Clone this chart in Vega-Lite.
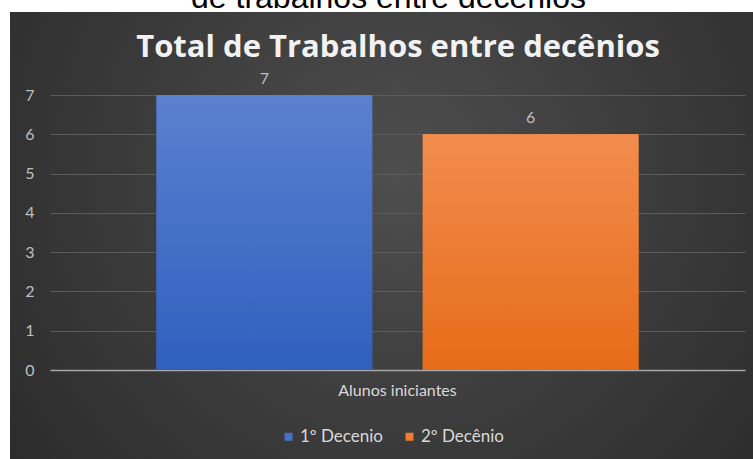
{
  "$schema": "https://vega.github.io/schema/vega-lite/v6.json",
  "width": 743,
  "height": 447,
  "autosize": "none",
  "padding": {"left": 10, "top": 12, "right": 0, "bottom": 0},
  "background": "#ffffff",
  "view": {
    "stroke": null,
    "fill": {
      "gradient": "radial",
      "x1": 0.52, "y1": 0.42, "r1": 0,
      "x2": 0.52, "y2": 0.42, "r2": 0.75,
      "stops": [
        {"offset": 0, "color": "#4e4e4e"},
        {"offset": 1, "color": "#262626"}
      ]
    }
  },
  "title": {
    "text": "de trabalhos entre decênios",
    "font": "Liberation Sans",
    "fontSize": 32,
    "fontWeight": "normal",
    "color": "#000000",
    "anchor": "middle",
    "frame": "group",
    "baseline": "alphabetic",
    "offset": -28,
    "dx": 7
  },
  "data": {
    "values": [
      {"grupo": "Alunos iniciantes", "serie": "1º Decenio", "total": 7},
      {"grupo": "Alunos iniciantes", "serie": "2º Decênio", "total": 6}
    ]
  },
  "encoding": {
    "xOffset": {
      "field": "serie",
      "type": "nominal",
      "sort": ["1º Decenio", "2º Decênio"],
      "scale": {"paddingInner": 0.19, "paddingOuter": 0.4}
    },
    "y": {
      "field": "total",
      "type": "quantitative",
      "scale": {"domain": [0, 7], "range": [358, 83], "nice": false, "zero": true},
      "axis": {
        "orient": "left",
        "offset": -40,
        "values": [0, 1, 2, 3, 4, 5, 6, 7],
        "domain": false,
        "ticks": false,
        "grid": true,
        "gridColor": "#5c5c5c",
        "gridWidth": 1,
        "labelColor": "#bfbfbf",
        "labelFont": "Lato",
        "labelFontSize": 16,
        "labelPadding": 16,
        "title": null
      }
    }
  },
  "layer": [
    {
      "mark": {"type": "bar"},
      "encoding": {
        "x": {
          "field": "grupo",
          "type": "nominal",
          "scale": {"range": [40, 735], "paddingInner": 0, "paddingOuter": 0},
          "axis": {
            "orient": "bottom",
            "offset": -89,
            "domain": true,
            "domainColor": "#a6a6a6",
            "domainWidth": 1.5,
            "ticks": false,
            "labelAngle": 0,
            "labelColor": "#d9d9d9",
            "labelFont": "Lato",
            "labelFontSize": 16,
            "labelPadding": 12,
            "title": null
          }
        },
        "color": {
          "field": "serie",
          "type": "nominal",
          "sort": ["1º Decenio", "2º Decênio"],
          "scale": {"range": ["#4472c4", "#ed7d31"]},
          "legend": {
            "orient": "none",
            "legendX": 270,
            "legendY": 416,
            "direction": "horizontal",
            "title": null,
            "symbolType": "square",
            "symbolSize": 64,
            "symbolStrokeWidth": 0,
            "labelColor": "#d9d9d9",
            "labelFont": "Lato",
            "labelFontSize": 17,
            "labelOffset": 3,
            "columnPadding": 18
          }
        }
      }
    },
    {
      "mark": {"type": "bar"},
      "encoding": {
        "x": {"field": "grupo", "type": "nominal", "axis": null},
        "fill": {
          "condition": {
            "test": "datum.serie === '1º Decenio'",
            "value": {
              "gradient": "linear", "x1": 0, "y1": 0, "x2": 0, "y2": 1,
              "stops": [
                {"offset": 0, "color": "#5b80cf"},
                {"offset": 1, "color": "#2f60bf"}
              ]
            }
          },
          "value": {
            "gradient": "linear", "x1": 0, "y1": 0, "x2": 0, "y2": 1,
            "stops": [
              {"offset": 0, "color": "#f28c4f"},
              {"offset": 1, "color": "#e66c17"}
            ]
          }
        }
      }
    },
    {
      "mark": {
        "type": "text",
        "dy": -11,
        "baseline": "alphabetic",
        "font": "Lato",
        "fontSize": 16,
        "color": "#bfbfbf"
      },
      "encoding": {
        "x": {
          "field": "grupo",
          "type": "nominal",
          "axis": {
            "orient": "top",
            "offset": -53,
            "labels": false,
            "ticks": false,
            "domain": false,
            "title": "Total de Trabalhos entre decênios",
            "titleFont": "Open Sans",
            "titleFontSize": 31,
            "titleFontWeight": "bold",
            "titleColor": "#f2f2f2",
            "titlePadding": 2
          }
        },
        "text": {"field": "total", "type": "quantitative"}
      }
    }
  ],
  "resolve": {"axis": {"x": "independent"}}
}
